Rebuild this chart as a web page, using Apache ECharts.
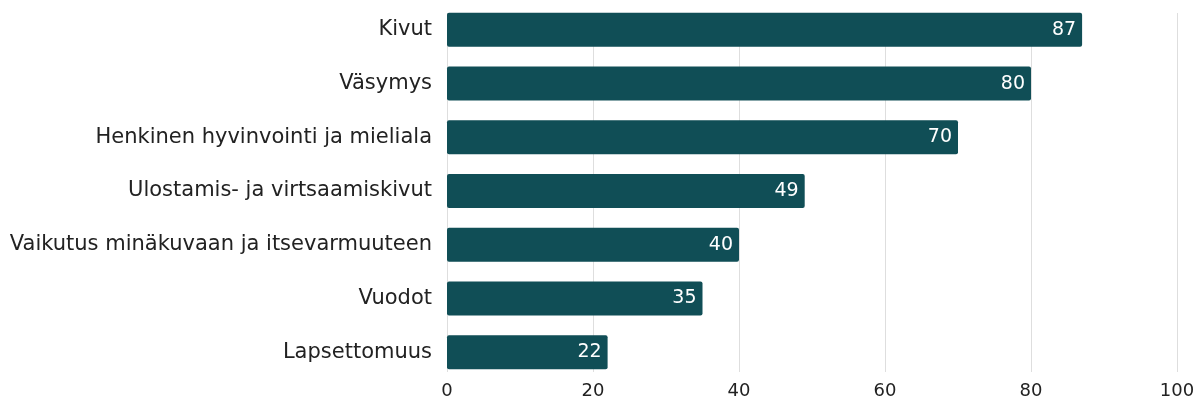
<!DOCTYPE html>
<html><head><meta charset="utf-8">
<script src="https://cdn.jsdelivr.net/npm/echarts@6/dist/echarts.min.js"></script>
<style>html,body{margin:0;padding:0;background:#fff}#c{width:1200px;height:400px}</style>
</head><body><div id="c"></div>
<script>
const categories = ["Kivut","Väsymys","Henkinen hyvinvointi ja mieliala","Ulostamis- ja virtsaamiskivut","Vaikutus minäkuvaan ja itsevarmuuteen","Vuodot","Lapsettomuus"];
const values = [87,80,70,49,40,35,22];
const xTicks = [0,20,40,60,80,100];
const FONT = "DejaVu Sans";
const chart = echarts.init(document.getElementById('c'));
chart.setOption({
  animation:false,
  textStyle:{fontFamily:FONT},
  grid:[
    {left:447,right:23,top:3,bottom:18.5},
    {left:447,right:23,top:13,bottom:28}
  ],
  xAxis:[
    {gridIndex:0,type:'value',min:xTicks[0],max:xTicks[xTicks.length-1],interval:20,
     axisLine:{show:false},axisTick:{show:false},splitLine:{show:false},
     axisLabel:{color:'#222',fontSize:18,margin:3,fontFamily:FONT}},
    {gridIndex:1,type:'value',min:0,max:100,interval:20,
     axisLine:{show:false},axisTick:{show:false},axisLabel:{show:false},
     splitLine:{show:true,lineStyle:{color:'#dedede',width:1}}}
  ],
  yAxis:[
    {gridIndex:0,type:'category',data:categories,inverse:true,
     axisLine:{show:false},axisTick:{show:false},
     axisLabel:{color:'#222',fontSize:21,margin:15,fontFamily:FONT}},
    {gridIndex:1,type:'category',data:categories,show:false}
  ],
  series:[{
    type:'bar',xAxisIndex:0,yAxisIndex:0,data:values,barWidth:34,
    itemStyle:{color:'#104e56',borderRadius:2},
    label:{show:true,position:'insideRight',distance:6,color:'#fff',fontSize:19,fontFamily:FONT}
  }]
});
</script></body></html>
